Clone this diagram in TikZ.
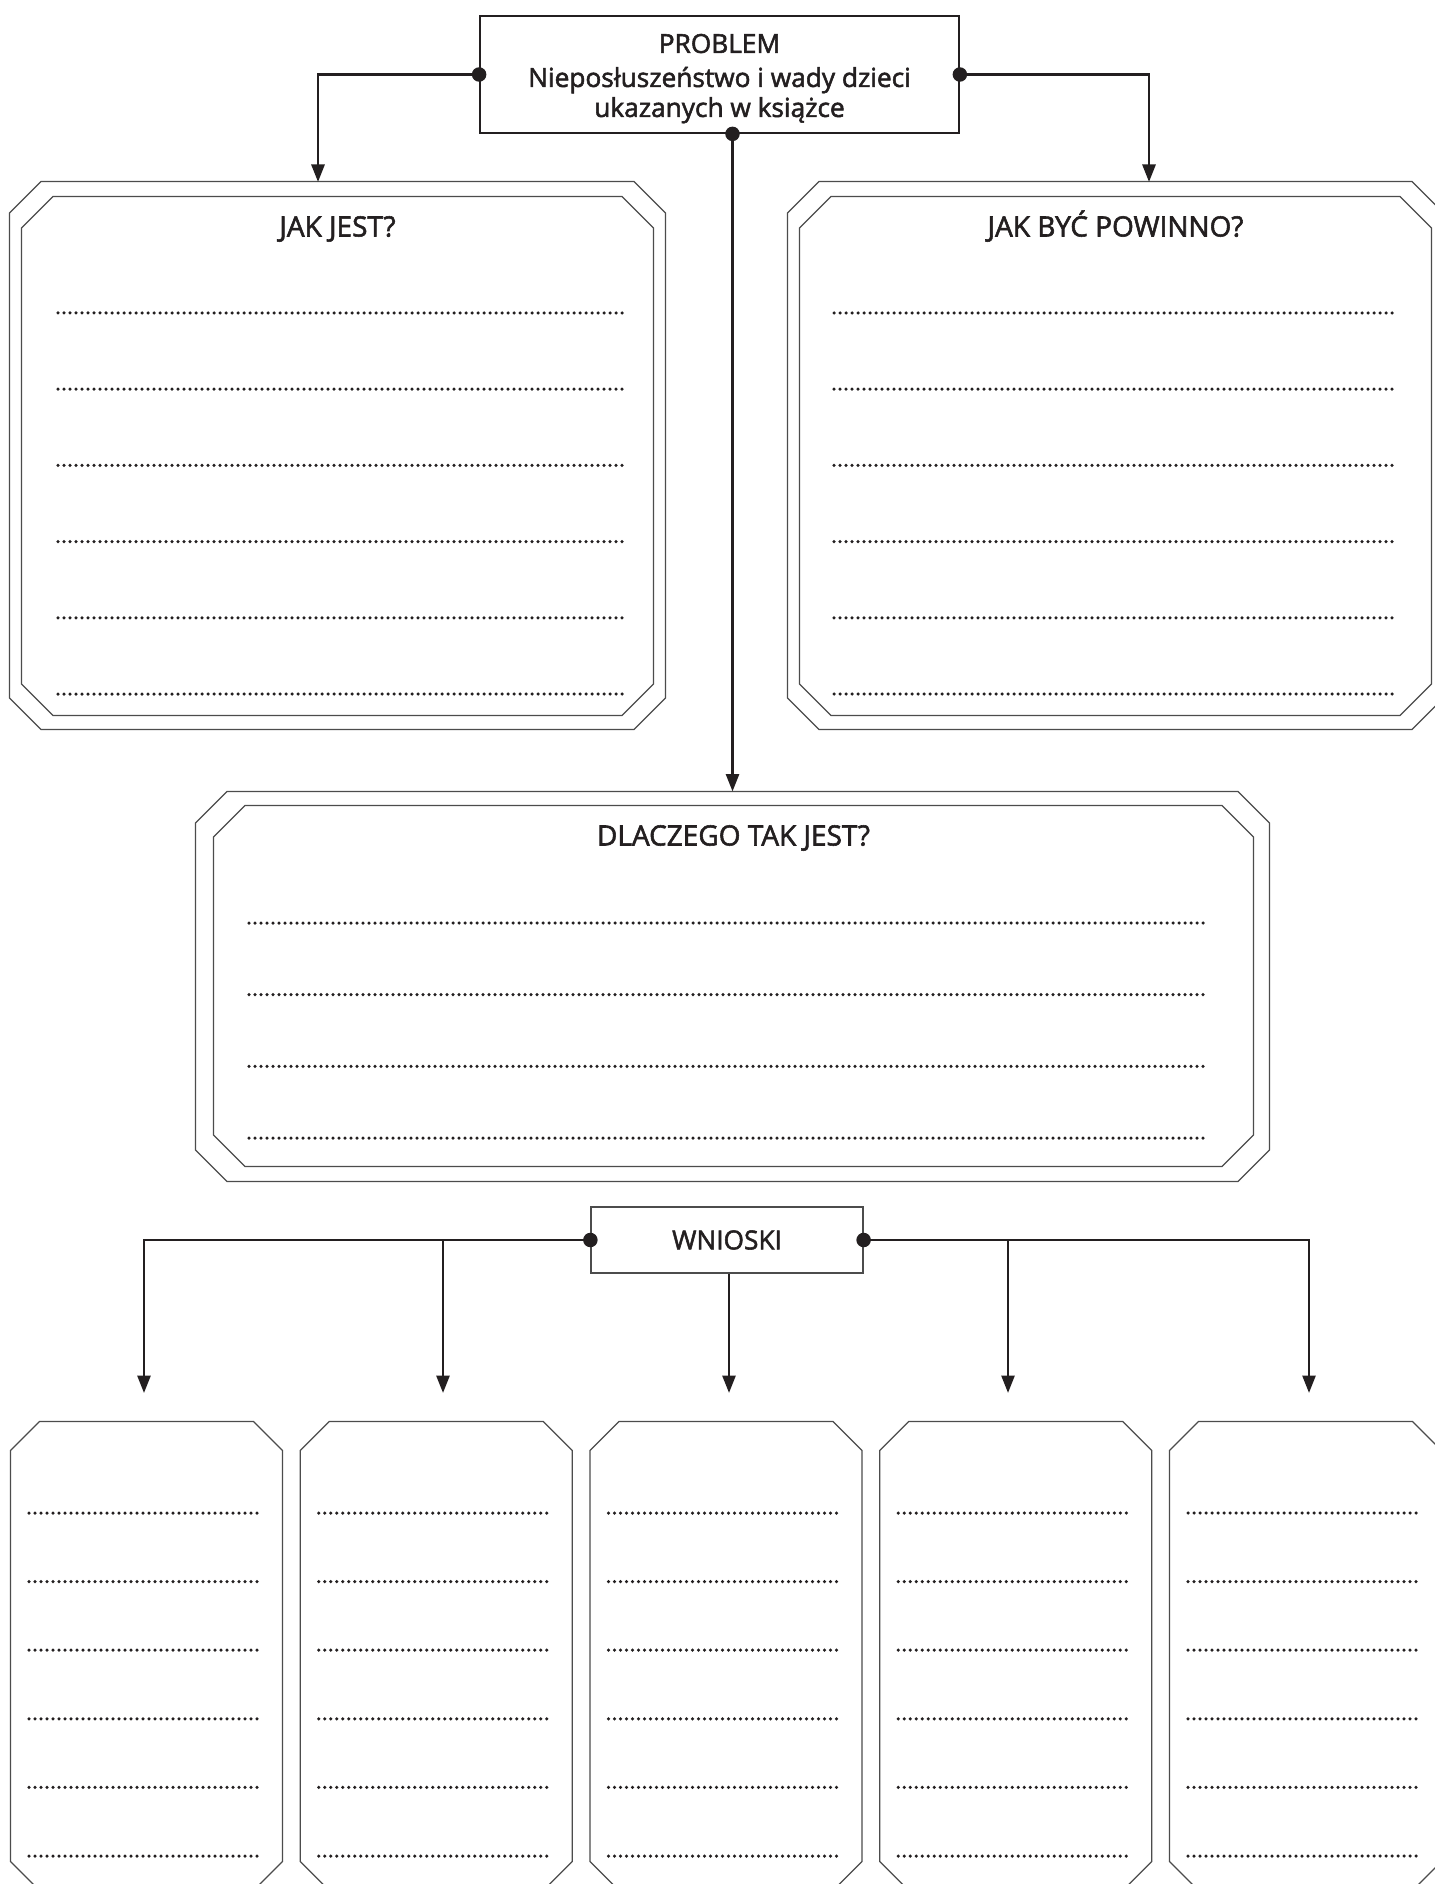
\documentclass[tikz,border=0pt]{standalone}
\usepackage{fontspec}
\setmainfont{Open Sans}[FakeBold=2]
\usetikzlibrary{arrows.meta}

\definecolor{ink}{HTML}{231F20}

% chamfered outline round a node: name, chamfer
\newcommand{\cutframe}[2]{%
  \draw[frameline] ([xshift=#2]#1.north west) -- ([xshift=-#2]#1.north east)
    -- ([yshift=-#2]#1.north east) -- ([yshift=#2]#1.south east)
    -- ([xshift=-#2]#1.south east) -- ([xshift=#2]#1.south west)
    -- ([yshift=#2]#1.south west) -- ([yshift=-#2]#1.north west) -- cycle;}

\begin{document}
\begin{tikzpicture}[x=0.4pt, y=-0.4pt,
            frameline/.style = {draw=black!70, line width=0.5pt},
            area/.style = {rectangle, inner sep=0pt},
            headbox/.style = {rectangle, inner sep=0pt, text=ink,
                font=\fontsize{10.5}{12}\selectfont, align=center},
            title/.style = {anchor=base, inner sep=0pt, text=ink,
                font=\fontsize{11.2}{13}\selectfont},
            link/.style = {draw=ink, line width=1.1pt},
            feed/.style = {link, -{Triangle[length=7pt,width=5.2pt]}},
            blob/.style = {circle, fill=ink, inner sep=0pt, minimum size=5.8pt},
            fillin/.style = {draw=ink, line width=1.4pt, line cap=round,
                dash pattern=on 0pt off 2.4pt}]

        \useasboundingbox[fill=white] (0,0) rectangle (1434,1884);

        % Problem
        \node[headbox, draw=ink, line width=0.7pt,
            minimum width=191.6pt, minimum height=46.8pt] (problem) at (719.5,74.5)
            {\rule{0pt}{10.9pt}PROBLEM\\[1.6pt]Niepos\l{}uszeństwo i wady dzieci\\ukazanych w książce};

        % Jak jest
        \node[area, minimum width=262pt, minimum height=218.8pt] (isOut) at (337.5,455.5) {};
        \node[area, minimum width=252.4pt, minimum height=207.2pt] (isIn) at (337.5,456) {};
        \cutframe{isOut}{12.6pt}
        \cutframe{isIn}{12.6pt}
        \node[title] (isTitle) at ([yshift=-16pt]isIn.north) {JAK JEST?};
        \foreach \k in {0,...,5}
            \draw[fillin] (58,{313+76.2*\k}) -- (623,{313+76.2*\k});

        % Jak byc powinno
        \node[area, minimum width=262pt, minimum height=218.8pt] (shouldOut) at (1115.5,455.5) {};
        \node[area, minimum width=252.4pt, minimum height=207.2pt] (shouldIn) at (1115.5,456) {};
        \cutframe{shouldOut}{12.6pt}
        \cutframe{shouldIn}{12.6pt}
        \node[title] (shouldTitle) at ([yshift=-16pt]shouldIn.north) {JAK BYĆ POWINNO?};
        \foreach \k in {0,...,5}
            \draw[fillin] (834,{313+76.2*\k}) -- (1397,{313+76.2*\k});

        % Dlaczego
        \node[area, minimum width=429.2pt, minimum height=155.6pt] (whyOut) at (732.5,986.5) {};
        \node[area, minimum width=415.6pt, minimum height=144pt] (whyIn) at (733.5,986) {};
        \cutframe{whyOut}{12.6pt}
        \cutframe{whyIn}{12.6pt}
        \node[title] (whyTitle) at ([yshift=-16pt]whyIn.north) {DLACZEGO TAK JEST?};
        \foreach \k in {0,...,3}
            \draw[fillin] (249,{923+71.7*\k}) -- (1207,{923+71.7*\k});

        % Wnioski
        \node[headbox, draw=black!70, line width=0.5pt,
            minimum width=108.8pt, minimum height=26.4pt] (wn) at (727,1240) {WNIOSKI};

        % Conclusion cards
        \foreach \i in {0,...,4} {
            \node[area, minimum width=108.4pt, minimum height=187.2pt] (c\i) at ({146.5+289.75*\i},1656) {};
            \cutframe{c\i}{11.6pt}
            \foreach \k in {0,...,5}
                \draw[fillin] ({29+289.75*\i},{1513+68.6*\k}) -- ({263+289.75*\i},{1513+68.6*\k});
        }

        % Arrows from the problem
        \coordinate (tipIs) at (318,182);
        \coordinate (tipShould) at (1149,182);
        \coordinate (drop) at (problem.south -| whyOut.north);
        \draw[feed] (problem.west) -| (tipIs);
        \draw[feed] (problem.east) -| (tipShould);
        \draw[feed] (drop) -- (whyOut.north);
        \node[blob] (pL) at (problem.west) {};
        \node[blob] (pR) at (problem.east) {};
        \node[blob] (pB) at (drop) {};

        % Arrows to the cards
        \coordinate (t0) at (144,1393);
        \coordinate (t1) at (443,1393);
        \coordinate (t2) at (729,1393);
        \coordinate (t3) at (1008,1393);
        \coordinate (t4) at (1309,1393);
        \draw[feed] (wn.west) -| (t0);
        \draw[feed] (wn.west -| t1) -- (t1);
        \draw[feed] (wn.south -| t2) -- (t2);
        \draw[feed] (wn.east -| t3) -- (t3);
        \draw[feed] (wn.east) -| (t4);
        \node[blob] (wL) at (wn.west) {};
        \node[blob] (wR) at (wn.east) {};

\end{tikzpicture}
\end{document}
